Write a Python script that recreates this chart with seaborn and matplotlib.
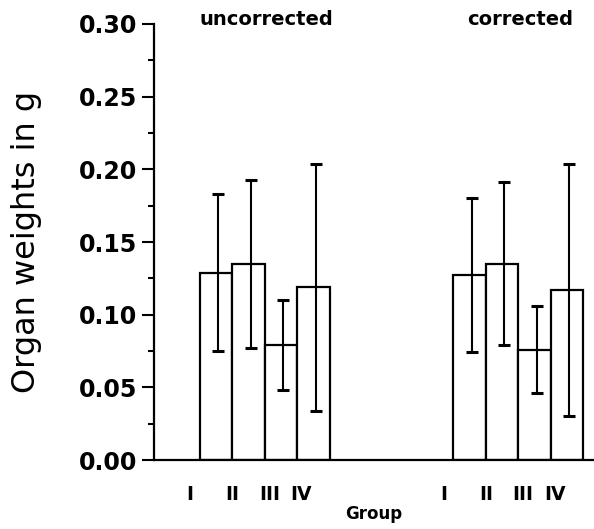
import numpy as np
import pandas as pd
import matplotlib
matplotlib.use("Agg")
import matplotlib.pyplot as plt
from matplotlib.ticker import MultipleLocator
import seaborn as sns

# Organ weights (mean and SD) per treatment group, before and after correction
groups = ["uncorrected", "corrected"]
subgroups = ["I", "II", "III", "IV"]
uncorrected_mean = [0.129, 0.135, 0.079, 0.119]
uncorrected_sd = [0.054, 0.058, 0.031, 0.085]
corrected_mean = [0.127, 0.135, 0.076, 0.117]
corrected_sd = [0.053, 0.056, 0.030, 0.087]
y_ticks = [0.00, 0.05, 0.10, 0.15, 0.20, 0.25, 0.30]

# layout: where each block of bars sits on the x axis
group_start = [0.0, 7.8]
label_shift = [-0.8, -0.5, -0.35, -0.38]   # roman numerals sit a bit left of their bars
err_shift = 0.07

means = [uncorrected_mean, corrected_mean]
sds = [uncorrected_sd, corrected_sd]
rows = []
for g, start, m, s in zip(groups, group_start, means, sds):
    for k, (sub, mv, sv) in enumerate(zip(subgroups, m, s)):
        rows.append({"group": g, "sub": sub, "pos": start + k, "weight": mv, "sd": sv})
df = pd.DataFrame(rows)

sns.set_style("ticks")
plt.rcParams.update({
    "font.family": ["DejaVu Sans"],
    "text.color": "black",
    "axes.labelcolor": "black",
    "axes.edgecolor": "black",
    "xtick.color": "black",
    "ytick.color": "black",
})

fig = plt.figure(figsize=(5.94, 5.29), dpi=100)
ax = fig.add_axes([154 / 594, 69 / 529, 440 / 594, 436 / 529])

sns.barplot(data=df, x="pos", y="weight", native_scale=True, width=1.0,
            color="white", saturation=1, edgecolor="black", linewidth=1.6,
            errorbar=None, ax=ax, zorder=2)

ax.errorbar(df["pos"] + err_shift, df["weight"], yerr=df["sd"], fmt="none",
            ecolor="black", elinewidth=1.5, capsize=4, capthick=2.2, zorder=3)

ax.set_ylim(0, 0.30)
ax.set_xlim(-1.91, 11.63)
sns.despine(ax=ax)
for side in ("left", "bottom"):
    ax.spines[side].set_linewidth(1.6)

ax.set_yticks(y_ticks, [f"{v:.2f}" for v in y_ticks],
              fontsize=17, fontweight="bold")
ax.yaxis.set_minor_locator(MultipleLocator(0.025))
ax.tick_params(axis="y", which="major", length=8.6, width=1.5, pad=3.5, direction="out")
ax.tick_params(axis="y", which="minor", length=4.3, width=1.5, direction="out")

xt = [start + k + sh for start in group_start for k, sh in enumerate(label_shift)]
ax.set_xticks(xt, subgroups * len(groups), fontsize=13.5, fontweight="bold")
ax.tick_params(axis="x", length=0, pad=18)
ax.xaxis.set_minor_locator(plt.NullLocator())

ax.set_ylabel("Organ weights in g", fontsize=23)
ax.yaxis.set_label_coords(-0.2545, 0.5)
ax.set_xlabel("Group", fontsize=12, fontweight="bold")
ax.xaxis.set_label_coords(0.5, -0.103)

for g, start in zip(groups, group_start):
    ax.text(start + 1.55, 0.3028, g, ha="center", va="center",
            fontsize=14, fontweight="bold", clip_on=False)

fig.savefig("out.png", dpi=100)
